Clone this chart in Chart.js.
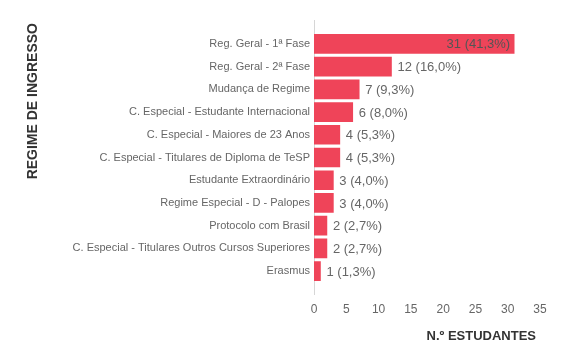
<!DOCTYPE html>
<html>
<head>
<meta charset="utf-8">
<script src="https://cdn.jsdelivr.net/npm/chart.js@4"></script>
<style>
html,body{margin:0;padding:0;background:#fff;}
#wrap{width:570px;height:360px;}
</style>
</head>
<body>
<div id="wrap"><canvas id="c" width="570" height="360"></canvas></div>
<script>
const categories = [
  "Reg. Geral - 1ª Fase",
  "Reg. Geral - 2ª Fase",
  "Mudança de Regime",
  "C. Especial - Estudante Internacional",
  "C. Especial - Maiores de 23 Anos",
  "C. Especial - Titulares de Diploma de TeSP",
  "Estudante Extraordinário",
  "Regime Especial - D - Palopes",
  "Protocolo com Brasil",
  "C. Especial - Titulares Outros Cursos Superiores",
  "Erasmus"
];
const values = [31, 12, 7, 6, 4, 4, 3, 3, 2, 2, 1];
const xTicks = [0, 5, 10, 15, 20, 25, 30, 35];
const yTitle = "REGIME DE INGRESSO";
const xTitle = "N.º ESTUDANTES";

const total = values.reduce((a, b) => a + b, 0);
const maxV = Math.max(...values);
const FONT = "'Liberation Sans', Arial, sans-serif";

const labelPlugin = {
  id: 'barLabels',
  beforeDatasetsDraw(chart) {
    const ctx = chart.ctx;
    const a = chart.chartArea;
    ctx.save();
    ctx.strokeStyle = '#d6d6d6';
    ctx.lineWidth = 1;
    ctx.beginPath();
    ctx.moveTo(Math.round(a.left) + 0.5, a.top - 12.5);
    ctx.lineTo(Math.round(a.left) + 0.5, a.bottom + 12.5);
    ctx.stroke();
    ctx.restore();
  },
  afterDatasetsDraw(chart) {
    const ctx = chart.ctx;
    const meta = chart.getDatasetMeta(0);
    const a = chart.chartArea;
    ctx.save();
    ctx.font = "13px " + FONT;
    ctx.textBaseline = 'middle';
    meta.data.forEach((bar, i) => {
      const v = values[i];
      const pct = (v / total * 100).toFixed(1).replace('.', ',');
      const txt = v + ' (' + pct + '%)';
      if (v / maxV > 0.5) {
        ctx.fillStyle = '#555555';
        ctx.textAlign = 'right';
        ctx.fillText(txt, bar.x - 4, bar.y + 1);
      } else {
        ctx.fillStyle = '#666666';
        ctx.textAlign = 'left';
        ctx.fillText(txt, bar.x + 6, bar.y + 1);
      }
    });
    // x axis title
    ctx.font = "bold 13px " + FONT;
    ctx.fillStyle = '#333333';
    ctx.textAlign = 'right';
    ctx.fillText(xTitle, a.right - 4, 336);
    // vertical axis title
    ctx.translate(33, 23);
    ctx.rotate(-Math.PI / 2);
    ctx.font = "bold 14px " + FONT;
    ctx.textAlign = 'right';
    ctx.textBaseline = 'middle';
    ctx.fillText(yTitle, 0, 0);
    ctx.restore();
  }
};

new Chart(document.getElementById('c'), {
  type: 'bar',
  data: {
    labels: categories,
    datasets: [{
      data: values,
      backgroundColor: '#ef4459',
      borderWidth: 0,
      barThickness: 19
    }]
  },
  options: {
    indexAxis: 'y',
    responsive: false,
    animation: false,
    layout: { padding: { top: 32.5, right: 30, left: 0, bottom: 10 } },
    plugins: { legend: { display: false }, tooltip: { enabled: false } },
    scales: {
      y: {
        type: 'category',
        grid: { display: false, drawTicks: false },
        border: { display: false },
        afterFit(scale) { scale.width = 314; },
        ticks: {
          autoSkip: false,
          padding: 4,
          color: '#666666',
          font: { size: 11, family: FONT }
        }
      },
      x: {
        type: 'linear',
        min: 0,
        max: 35,
        grid: { display: false, drawTicks: false },
        border: { display: false },
        afterBuildTicks(scale) {
          scale.ticks = xTicks.map(v => ({ value: v }));
        },
        afterFit(scale) { scale.height = 67.5; },
        ticks: {
          padding: 20,
          color: '#666666',
          font: { size: 12, family: FONT }
        }
      }
    }
  },
  plugins: [labelPlugin]
});
</script>
</body>
</html>
